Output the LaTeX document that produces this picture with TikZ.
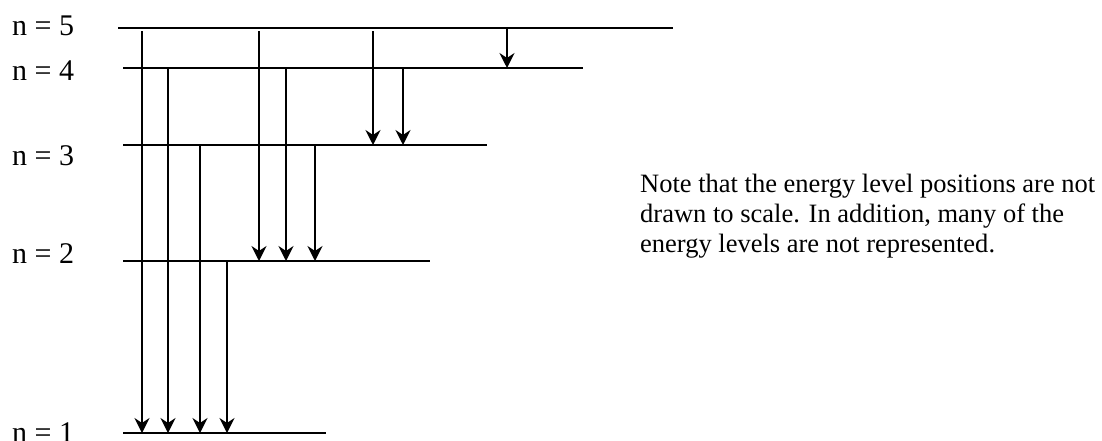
\documentclass[tikz,border=0pt]{standalone}
\usepackage{fontspec}
\setmainfont{Liberation Serif}
\usetikzlibrary{arrows.meta}
\begin{document}
\begin{tikzpicture}[x=1pt,y=-1pt,
  level/.style={line width=2.1pt},
  trans/.style={line width=2.1pt,-{Stealth[length=15pt,width=15pt,inset=5pt]}},
  lab/.style={anchor=base west,inner sep=0pt,font=\fontsize{30}{36}\selectfont},
  note/.style={anchor=north west,inner sep=0pt,align=left,font=\fontsize{26.5}{30}\selectfont}]
\useasboundingbox (0,0) rectangle (1102,440);

% energy levels: left and right ends of each line
\coordinate (a5) at (118,28);  \coordinate (b5) at (673,28);
\coordinate (a4) at (123,68);  \coordinate (b4) at (583,68);
\coordinate (a3) at (123,145); \coordinate (b3) at (487,145);
\coordinate (a2) at (123,261); \coordinate (b2) at (430,261);
\coordinate (a1) at (123,433); \coordinate (b1) at (326,433);
% transitions leaving n = 5 begin just under the line
\coordinate (s5) at (0,31);

\foreach \n in {1,...,5} \draw[level] (a\n) -- (b\n);

% level labels
\node[lab] (l5) at (12,35)  {n = 5};
\node[lab] (l4) at (12,80)  {n = 4};
\node[lab] (l3) at (12,165) {n = 3};
\node[lab] (l2) at (12,263) {n = 2};
\node[lab] (l1) at (12,442) {n = 1};

% downward transitions
\draw[trans] (142,0 |- s5) -- (142,0 |- a1);
\draw[trans] (259,0 |- s5) -- (259,0 |- a2);
\draw[trans] (373,0 |- s5) -- (373,0 |- a3);
\draw[trans] (507,0 |- a5) -- (507,0 |- a4);

\draw[trans] (168,0 |- a4) -- (168,0 |- a1);
\draw[trans] (286,0 |- a4) -- (286,0 |- a2);
\draw[trans] (403,0 |- a4) -- (403,0 |- a3);

\draw[trans] (200,0 |- a3) -- (200,0 |- a1);
\draw[trans] (315,0 |- a3) -- (315,0 |- a2);

\draw[trans] (227,0 |- a2) -- (227,0 |- a1);

% explanatory note
\node[note] (note) at (640,174) {Note that the energy level positions are not\\
drawn to scale. In addition, many of the\\
energy levels are not represented.};
\end{tikzpicture}
\end{document}
